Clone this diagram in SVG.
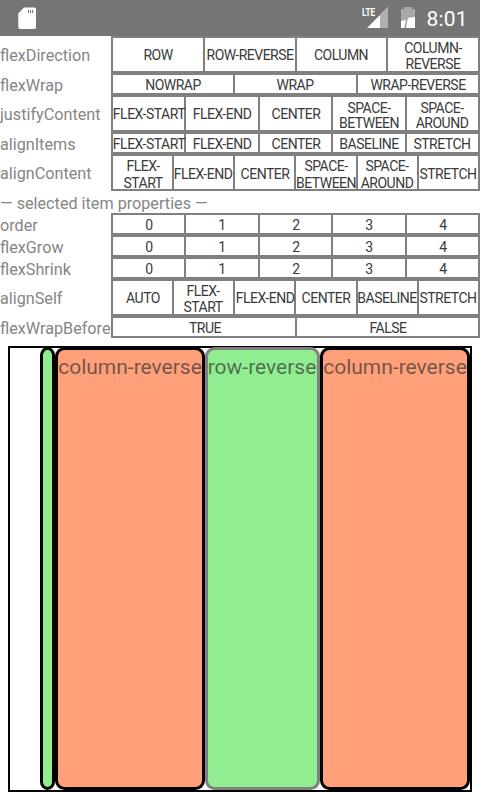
<svg xmlns="http://www.w3.org/2000/svg" width="480" height="800" viewBox="0 0 480 800">
<style>
text{font-family:Roboto,"Liberation Sans",sans-serif}
.l{font-size:16.200px;fill:#858585}
.b{font-size:14px;fill:#3a3a3a;text-anchor:middle;letter-spacing:-.5px}
.c{fill:#fff}
.big{font-size:21px;fill:#333;fill-opacity:.7;text-anchor:middle}
</style>
<rect width="480" height="800" fill="#fff"/>
<g id="statusbar">
<rect width="480" height="36" fill="#757575"/>
<path id="sd" d="M24 7.500H34.500Q36 7.500 36 9V27.300Q36 29 34.300 29H20Q18.300 29 18.300 27.300V13.500Z" fill="#fff"/>
<path d="M28 10h1v3h-1zM30 10h1v3h-1zM32 10h1v3h-1z" fill="#757575"/>
<text x="362" y="15.500" font-size="10" font-weight="700" fill="#fff" textLength="13" lengthAdjust="spacingAndGlyphs">LTE</text>
<path d="M388 7V28H367Z" fill="#fff"/>
<path d="M388 7V28H380V14.500Z" fill="#b0b0b0"/>
<path d="M404 9V7H412V9H415V28H401V9Z" fill="#a8a8a8"/>
<path d="M401 21L406 20L404 28H401ZM408 18L415 17V28H406Z" fill="#fff"/>
<text x="426.500" y="26" font-size="21" fill="#fff" letter-spacing=".2">8:01</text>
</g>
<g id="controls">
<rect x="111" y="36" width="369" height="155" fill="#808080"/>
<rect x="111" y="213" width="369" height="125" fill="#808080"/>
<g id="flexDirection"><text class="l" x="0" y="61">flexDirection</text>
<rect class="c" x="113" y="38" width="90" height="33"/><rect class="c" x="205" y="38" width="90" height="33"/><rect class="c" x="297" y="38" width="89" height="33"/><rect class="c" x="388" y="38" width="90" height="33"/>
<text class="b" x="158" y="60">ROW</text><text class="b" x="250" y="60">ROW-REVERSE</text><text class="b" x="341" y="60">COLUMN</text><text class="b" x="433" y="53">COLUMN-</text><text class="b" x="433" y="69">REVERSE</text></g>
<g id="flexWrap"><text class="l" x="0" y="91">flexWrap</text>
<rect class="c" x="113" y="75" width="120" height="18"/><rect class="c" x="235" y="75" width="121" height="18"/><rect class="c" x="358" y="75" width="120" height="18"/>
<text class="b" x="173" y="90">NOWRAP</text><text class="b" x="295" y="90">WRAP</text><text class="b" x="418" y="90">WRAP-REVERSE</text></g>
<g id="justifyContent"><text class="l" x="0" y="120">justifyContent</text>
<rect class="c" x="113" y="97" width="71" height="33"/><rect class="c" x="186" y="97" width="72" height="33"/><rect class="c" x="260" y="97" width="71" height="33"/><rect class="c" x="333" y="97" width="72" height="33"/><rect class="c" x="407" y="97" width="71" height="33"/>
<text class="b" x="149" y="119">FLEX-START</text><text class="b" x="222" y="119">FLEX-END</text><text class="b" x="296" y="119">CENTER</text><text class="b" x="369" y="112.500">SPACE-</text><text class="b" x="369" y="128">BETWEEN</text><text class="b" x="442" y="112.500">SPACE-</text><text class="b" x="442" y="128">AROUND</text></g>
<g id="alignItems"><text class="l" x="0" y="150">alignItems</text>
<rect class="c" x="113" y="134" width="71" height="18"/><rect class="c" x="186" y="134" width="72" height="18"/><rect class="c" x="260" y="134" width="71" height="18"/><rect class="c" x="333" y="134" width="72" height="18"/><rect class="c" x="407" y="134" width="71" height="18"/>
<text class="b" x="149" y="149">FLEX-START</text><text class="b" x="222" y="149">FLEX-END</text><text class="b" x="296" y="149">CENTER</text><text class="b" x="369" y="149">BASELINE</text><text class="b" x="442" y="149">STRETCH</text></g>
<g id="alignContent"><text class="l" x="0" y="179">alignContent</text>
<rect class="c" x="113" y="156" width="59" height="33"/><rect class="c" x="174" y="156" width="59" height="33"/><rect class="c" x="235" y="156" width="59" height="33"/><rect class="c" x="296" y="156" width="60" height="33"/><rect class="c" x="358" y="156" width="59" height="33"/><rect class="c" x="419" y="156" width="59" height="33"/>
<text class="b" x="143" y="171">FLEX-</text><text class="b" x="143" y="187.500">START</text><text class="b" x="203" y="179">FLEX-END</text><text class="b" x="265" y="179">CENTER</text><text class="b" x="326" y="171">SPACE-</text><text class="b" x="326" y="187.500">BETWEEN</text><text class="b" x="387" y="171">SPACE-</text><text class="b" x="387" y="187.500">AROUND</text><text class="b" x="448" y="179">STRETCH</text></g>
<text id="selected" class="l" x="0" y="209">— selected item properties —</text>
<g id="order"><text class="l" x="0" y="231">order</text>
<rect class="c" x="113" y="215" width="71" height="18"/><rect class="c" x="186" y="215" width="72" height="18"/><rect class="c" x="260" y="215" width="71" height="18"/><rect class="c" x="333" y="215" width="72" height="18"/><rect class="c" x="407" y="215" width="71" height="18"/>
<text class="b" x="149" y="230">0</text><text class="b" x="222" y="230">1</text><text class="b" x="296" y="230">2</text><text class="b" x="369" y="230">3</text><text class="b" x="443" y="230">4</text></g>
<g id="flexGrow"><text class="l" x="0" y="253">flexGrow</text>
<rect class="c" x="113" y="237" width="71" height="18"/><rect class="c" x="186" y="237" width="72" height="18"/><rect class="c" x="260" y="237" width="71" height="18"/><rect class="c" x="333" y="237" width="72" height="18"/><rect class="c" x="407" y="237" width="71" height="18"/>
<text class="b" x="149" y="252">0</text><text class="b" x="222" y="252">1</text><text class="b" x="296" y="252">2</text><text class="b" x="369" y="252">3</text><text class="b" x="443" y="252">4</text></g>
<g id="flexShrink"><text class="l" x="0" y="275">flexShrink</text>
<rect class="c" x="113" y="259" width="71" height="18"/><rect class="c" x="186" y="259" width="72" height="18"/><rect class="c" x="260" y="259" width="71" height="18"/><rect class="c" x="333" y="259" width="72" height="18"/><rect class="c" x="407" y="259" width="71" height="18"/>
<text class="b" x="149" y="274">0</text><text class="b" x="222" y="274">1</text><text class="b" x="296" y="274">2</text><text class="b" x="369" y="274">3</text><text class="b" x="443" y="274">4</text></g>
<g id="alignSelf"><text class="l" x="0" y="304">alignSelf</text>
<rect class="c" x="113" y="281" width="59" height="33"/><rect class="c" x="174" y="281" width="59" height="33"/><rect class="c" x="235" y="281" width="59" height="33"/><rect class="c" x="296" y="281" width="60" height="33"/><rect class="c" x="358" y="281" width="59" height="33"/><rect class="c" x="419" y="281" width="59" height="33"/>
<text class="b" x="143" y="303">AUTO</text><text class="b" x="203" y="296">FLEX-</text><text class="b" x="203" y="312">START</text><text class="b" x="265" y="303">FLEX-END</text><text class="b" x="326" y="303">CENTER</text><text class="b" x="387" y="303">BASELINE</text><text class="b" x="448" y="303">STRETCH</text></g>
<g id="flexWrapBefore"><text class="l" x="0" y="334">flexWrapBefore</text>
<rect class="c" x="113" y="318" width="182" height="18"/><rect class="c" x="297" y="318" width="181" height="18"/>
<text class="b" x="205" y="333">TRUE</text><text class="b" x="388" y="333">FALSE</text></g>
</g>
<g id="preview">
<rect x="9" y="347" width="462" height="444" fill="#fff" stroke="#000" stroke-width="2"/>
<g id="item-0"><rect x="41.500" y="348.500" width="12" height="440" rx="6.500" fill="#90ee90" stroke="#000" stroke-width="3"/></g>
<g id="item-1"><rect x="56.500" y="348.500" width="147" height="440" rx="8" fill="#ffa07a" stroke="#000" stroke-width="3"/><text class="big" x="130" y="374">column-reverse</text></g>
<g id="item-2"><rect x="206.500" y="348.500" width="112" height="440" rx="8" fill="#90ee90" stroke="#808080" stroke-width="3"/><text class="big" x="262" y="374">row-reverse</text></g>
<g id="item-3"><rect x="321.500" y="348.500" width="147" height="440" rx="8" fill="#ffa07a" stroke="#000" stroke-width="3"/><text class="big" x="395" y="374">column-reverse</text></g>
</g>
</svg>
